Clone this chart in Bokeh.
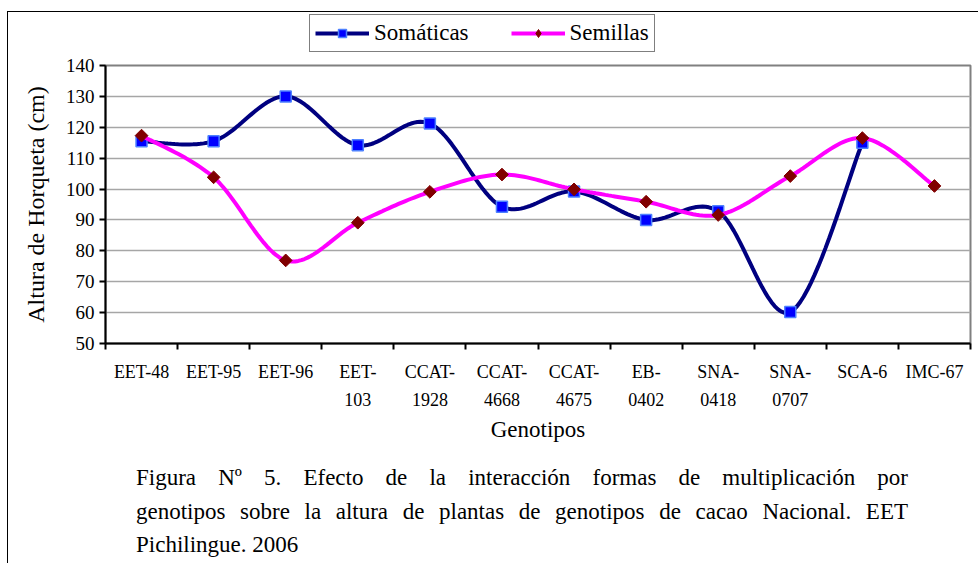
import numpy as np
from bokeh.plotting import figure
from bokeh.layouts import column
from bokeh.models import (FixedTicker, Legend, LegendItem, Label, Range1d)
from bokeh.embed import file_html
from bokeh.resources import INLINE

# ---------------- data ----------------
genotipos = ["EET-48", "EET-95", "EET-96", "EET-\n103", "CCAT-\n1928", "CCAT-\n4668",
             "CCAT-\n4675", "EB-\n0402", "SNA-\n0418", "SNA-\n0707", "SCA-6", "IMC-67"]
somaticas = [115.5, 115.5, 130.0, 114.2, 121.2, 94.3, 99.2, 90.0, 92.8, 60.2, 115.0, None]
semillas = [117.3, 103.8, 76.9, 89.1, 99.1, 104.7, 99.9, 95.9, 91.6, 104.2, 116.5, 101.0]
y_ticks = [50, 60, 70, 80, 90, 100, 110, 120, 130, 140]
series_names = ["Somáticas", "Semillas"]
caption = ["Figura Nº 5.  Efecto de la interacción formas de multiplicación por",
           "genotipos sobre la altura de plantas de genotipos de cacao Nacional. EET",
           "Pichilingue. 2006"]

SERIF = "Liberation Serif"
W = 970
FL, FR = 97, 8          # frame borders of the main chart (shared by the column)
CAP_SIZE = 23
CAP_LEFT, CAP_RIGHT = 127.5, 899.5

SOM_STYLE = dict(line_color="#000080")
SOM_MARK = dict(marker="square", size=11, fill_color="#0000FF", line_color="#4d80ff", line_width=1.5)
SEM_STYLE = dict(line_color="#FF00FF")
SEM_MARK = dict(marker="square", size=9, angle=np.pi / 4, fill_color="#800000", line_color="#800000")
SEM_LEG_MARK = dict(marker="diamond", size=15, fill_color="#800000", line_color="#800000")

# Times / Liberation Serif advance widths (1/1000 em), used to justify the caption
_W = {}
for chars, w in [("il.,tjíÍ ", 0), ("ac ezáéC", 0)]:
    pass
_W.update({c: 444 for c in "acezáé"})
_W.update({c: 500 for c in "bdghknopquvxyóú0123456789"})
_W.update({c: 278 for c in "iljtí"})
_W.update({c: 333 for c in "fr"})
_W.update({"m": 778, "s": 389, "w": 722, ".": 250, ",": 250, " ": 250, "º": 310,
           "F": 556, "N": 722, "E": 611, "T": 611, "P": 556, "C": 667, "S": 556})


def text_w(s, size):
    return sum(_W.get(c, 500) for c in s) * size / 1000.0


def smooth(xs, ys, n=24):
    """Excel-like smoothed line (Catmull-Rom Bezier segments)."""
    pts = np.column_stack([xs, ys]).astype(float)
    out = []
    for i in range(len(pts) - 1):
        p0 = pts[i - 1] if i > 0 else pts[i]
        p1 = pts[i]
        p2 = pts[i + 1]
        p3 = pts[i + 2] if i + 2 < len(pts) else pts[i + 1]
        c1 = p1 + (p2 - p0) / 6.0
        c2 = p2 - (p3 - p1) / 6.0
        t = np.linspace(0, 1, n)[:, None]
        seg = ((1 - t) ** 3) * p1 + 3 * ((1 - t) ** 2) * t * c1 + 3 * (1 - t) * t ** 2 * c2 + t ** 3 * p2
        out.append(seg if i == 0 else seg[1:])
    arr = np.vstack(out)
    return arr[:, 0], arr[:, 1]


xc = np.arange(len(genotipos)) + 0.5
som_x = [x for x, v in zip(xc, somaticas) if v is not None]
som_y = [v for v in somaticas if v is not None]
sem_x = list(xc)
sem_y = list(semillas)
sx, sy = smooth(som_x, som_y)
mx, my = smooth(sem_x, sem_y)


def blank(height):
    # x/y data units equal canvas pixels (frame is aligned with the main chart's frame)
    f = figure(width=W, height=height, output_backend="svg", toolbar_location=None,
               x_axis_location=None, y_axis_location=None,
               x_range=Range1d(FL, W - FR), y_range=Range1d(height, 0),
               min_border=0, min_border_left=FL, min_border_right=FR,
               min_border_top=0, min_border_bottom=0)
    f.grid.visible = False
    f.outline_line_color = None
    f.background_fill_color = "white"
    f.border_fill_color = "white"
    return f


# ---------------- legend strip ----------------
top = blank(41)
d1 = top.line(sx, sy, line_width=4, **SOM_STYLE)
d1m = top.scatter(som_x, som_y, **SOM_MARK)
d2 = top.line(mx, my, line_width=4, **SEM_STYLE)
d2m = top.scatter(sem_x, sem_y, **SEM_LEG_MARK)
legend = Legend(items=[LegendItem(label=series_names[0], renderers=[d1, d1m]),
                       LegendItem(label=series_names[1], renderers=[d2, d2m])],
                orientation="horizontal", location=(204, 1),
                label_text_font=SERIF, label_text_font_size="23px",
                label_text_color="black",
                glyph_width=54, glyph_height=20, label_standoff=5, spacing=42,
                padding=5, margin=0,
                border_line_color="black", border_line_width=1.5,
                background_fill_color="white", background_fill_alpha=1)
top.add_layout(legend, "center")

# ---------------- main chart ----------------
p = figure(width=W, height=395, output_backend="svg", toolbar_location=None,
           x_range=Range1d(0, len(genotipos)), y_range=Range1d(50, 140),
           min_border_left=FL, min_border_right=FR, min_border_top=12, min_border_bottom=105)
p.background_fill_color = "white"
p.border_fill_color = "white"
p.outline_line_color = "#808080"
p.outline_line_width = 2

p.xgrid.visible = False
p.ygrid.ticker = FixedTicker(ticks=y_ticks)
p.ygrid.grid_line_color = "#a6a6a6"
p.ygrid.grid_line_width = 1.3

p.yaxis.ticker = FixedTicker(ticks=y_ticks)
p.yaxis.axis_line_color = "black"
p.yaxis.axis_line_width = 2
p.yaxis.major_tick_out = 6
p.yaxis.major_tick_in = 0
p.yaxis.major_tick_line_width = 2
p.yaxis.minor_tick_line_color = None
p.yaxis.major_label_text_font = SERIF
p.yaxis.major_label_text_font_size = "19px"
p.yaxis.major_label_text_color = "black"
p.yaxis.major_label_standoff = 5
p.yaxis.axis_label = "Altura de Horqueta (cm)"
p.yaxis.axis_label_text_font = SERIF
p.yaxis.axis_label_text_font_size = "24px"
p.yaxis.axis_label_text_font_style = "normal"
p.yaxis.axis_label_text_color = "black"
p.yaxis.axis_label_standoff = 14

p.xaxis.ticker = FixedTicker(ticks=list(xc), minor_ticks=list(range(len(genotipos) + 1)))
p.xaxis.major_label_overrides = {float(x): g for x, g in zip(xc, genotipos)}
p.xaxis.axis_line_color = "black"
p.xaxis.axis_line_width = 2
p.xaxis.major_tick_line_color = None
p.xaxis.minor_tick_out = 6
p.xaxis.minor_tick_in = 0
p.xaxis.minor_tick_line_width = 2
p.xaxis.minor_tick_line_color = "black"
p.xaxis.major_label_text_font = SERIF
p.xaxis.major_label_text_font_size = "18px"
p.xaxis.major_label_text_color = "black"
p.xaxis.major_label_text_line_height = 1.4
p.xaxis.major_label_standoff = 12
p.xaxis.axis_label = "Genotipos"
p.xaxis.axis_label_text_font = SERIF
p.xaxis.axis_label_text_font_size = "23px"
p.xaxis.axis_label_text_font_style = "normal"
p.xaxis.axis_label_text_color = "black"
p.xaxis.axis_label_standoff = 4

p.line(sx, sy, line_width=4, **SOM_STYLE)
p.scatter(som_x, som_y, **SOM_MARK)
p.line(mx, my, line_width=4, **SEM_STYLE)
p.scatter(sem_x, sem_y, **SEM_MARK)

# ---------------- caption (justified like the original) ----------------
cap = blank(115)
for i, line in enumerate(caption):
    y = 29.3 + i * 33.5
    words = line.split()
    if i < len(caption) - 1 and len(words) > 1:
        total = sum(text_w(wd, CAP_SIZE) for wd in words)
        gap = (CAP_RIGHT - CAP_LEFT - total) / (len(words) - 1)
        x = CAP_LEFT
        for wd in words:
            cap.add_layout(Label(x=x, y=y, text=wd, text_font=SERIF,
                                 text_font_size=f"{CAP_SIZE}px", text_color="black",
                                 text_baseline="middle", text_align="left"))
            x += text_w(wd, CAP_SIZE) + gap
    else:
        cap.add_layout(Label(x=CAP_LEFT, y=y, text=line, text_font=SERIF,
                             text_font_size=f"{CAP_SIZE}px", text_color="black",
                             text_baseline="middle", text_align="left"))

lay = column(top, p, cap, spacing=0,
             styles={"margin-left": "7px", "margin-top": "11px",
                     "border-left": "1.5px solid black", "border-top": "1.5px solid black"})
open("out.html", "w").write(file_html(lay, INLINE))
